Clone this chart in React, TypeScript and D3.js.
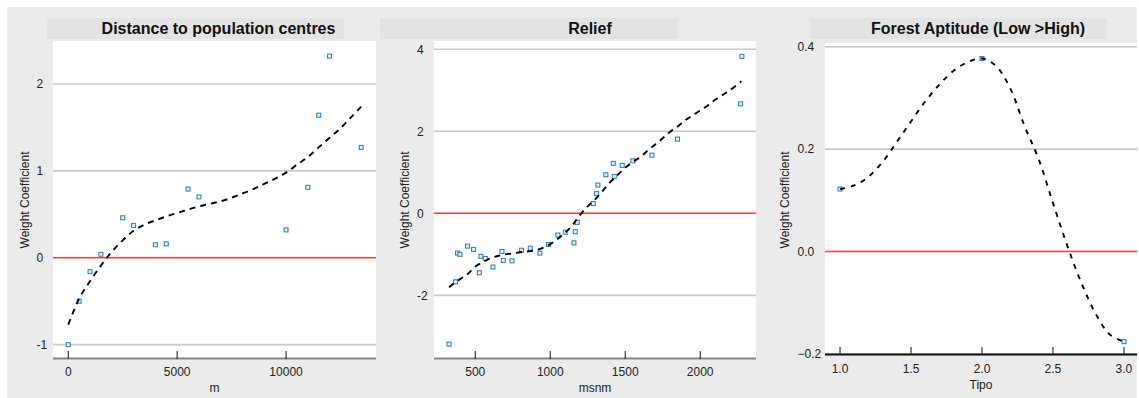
import React from "react";
import * as d3 from "d3";

// ---------- Data ----------
// Panel 1: Distance to population centres
const distPointsX = [0, 500, 1000, 1500, 2500, 3000, 4000, 4500, 5500, 6000, 10000, 11000, 11500, 12000, 13450];
const distPointsY = [-1.0, -0.5, -0.16, 0.04, 0.46, 0.37, 0.15, 0.16, 0.79, 0.7, 0.32, 0.81, 1.64, 2.32, 1.27];
const distCurveX = [0, 500, 1000, 1500, 2000, 2500, 3000, 3500, 4000, 4500, 5000, 5500, 6000, 6500, 7000, 7500, 8000, 8500, 9000, 9500, 10000, 10500, 11000, 11500, 12000, 12500, 13000, 13450];
const distCurveY = [-0.77, -0.47, -0.27, -0.09, 0.07, 0.2, 0.31, 0.38, 0.43, 0.475, 0.515, 0.555, 0.59, 0.62, 0.65, 0.69, 0.74, 0.79, 0.85, 0.91, 0.98, 1.07, 1.16, 1.27, 1.38, 1.49, 1.62, 1.74];
const distXTicks = [0, 5000, 10000];
const distYTicks = [-1, 0, 1, 2];

// Panel 2: Relief
const reliefPointsX = [325, 369, 382, 398, 449, 489, 527, 538, 567, 618, 678, 687, 745, 809, 867, 931, 989, 1051, 1100, 1158, 1167, 1180, 1287, 1309, 1318, 1371, 1420, 1427, 1480, 1551, 1678, 1849, 2269, 2278];
const reliefPointsY = [-3.19, -1.67, -0.97, -1.0, -0.8, -0.88, -1.45, -1.05, -1.1, -1.31, -0.93, -1.15, -1.16, -0.9, -0.85, -0.97, -0.76, -0.53, -0.46, -0.72, -0.45, -0.22, 0.24, 0.48, 0.69, 0.94, 1.22, 0.9, 1.17, 1.28, 1.42, 1.81, 2.67, 3.83];
const reliefCurveX = [325, 400, 450, 500, 550, 600, 650, 700, 750, 800, 850, 900, 950, 1000, 1050, 1100, 1150, 1200, 1250, 1300, 1350, 1400, 1450, 1500, 1550, 1600, 1650, 1700, 1750, 1800, 1850, 1900, 1950, 2000, 2050, 2100, 2150, 2200, 2275];
const reliefCurveY = [-1.8, -1.6, -1.48, -1.3, -1.19, -1.1, -1.04, -1.0, -0.98, -0.95, -0.93, -0.9, -0.84, -0.75, -0.62, -0.47, -0.28, -0.03, 0.17, 0.34, 0.55, 0.76, 0.94, 1.11, 1.25, 1.37, 1.53, 1.68, 1.83, 1.99, 2.12, 2.27, 2.39, 2.51, 2.63, 2.77, 2.89, 3.01, 3.22];
const reliefXTicks = [500, 1000, 1500, 2000];
const reliefYTicks = [-2, 0, 2, 4];

// Panel 3: Forest Aptitude
const forestPointsX = [1, 2, 3];
const forestPointsY = [0.122, 0.377, -0.176];
const forestCurveX = [1.0, 1.1, 1.2, 1.3, 1.4, 1.5, 1.6, 1.7, 1.8, 1.9, 2.0, 2.1, 2.2, 2.3, 2.4, 2.5, 2.6, 2.7, 2.8, 2.9, 3.0];
const forestCurveY = [0.122, 0.129, 0.146, 0.175, 0.214, 0.254, 0.293, 0.326, 0.353, 0.37, 0.377, 0.362, 0.318, 0.245, 0.18, 0.095, 0.012, -0.061, -0.121, -0.162, -0.176];
const forestXTicks = [1.0, 1.5, 2.0, 2.5, 3.0];
const forestYTicks = [-0.2, 0, 0.2, 0.4];

const FONT = "'Liberation Sans', Arial, sans-serif";

type PanelCfg = {
  title: string;
  xLabel: string;
  px: number[]; py: number[]; cx: number[]; cy: number[];
  xTicks: number[]; yTicks: number[];
  xDomain: [number, number]; yDomain: [number, number];
  left: number; right: number; top: number; bottom: number;
  titleBox: [number, number]; titleCenter: number;
  yTickX: number; yLabelX: number;
  xFmt: (v: number) => string; yFmt: (v: number) => string;
  axisColor: string; tickLabelY: number; xLabelY: number;
  dash: string;
};

const panels: PanelCfg[] = [
  {
    title: "Distance to population centres", xLabel: "m",
    px: distPointsX, py: distPointsY, cx: distCurveX, cy: distCurveY,
    xTicks: distXTicks, yTicks: distYTicks,
    xDomain: [-700, 14130], yDomain: [-1.165, 2.494],
    left: 53, right: 376, top: 41, bottom: 359,
    titleBox: [47, 344], titleCenter: 218.5,
    yTickX: 36.5, yLabelX: 25,
    xFmt: (v) => String(v), yFmt: (v) => String(v),
    axisColor: "#858585", tickLabelY: 375.5, xLabelY: 392, dash: "6,5",
  },
  {
    title: "Relief", xLabel: "msnm",
    px: reliefPointsX, py: reliefPointsY, cx: reliefCurveX, cy: reliefCurveY,
    xTicks: reliefXTicks, yTicks: reliefYTicks,
    xDomain: [225, 2372], yDomain: [-3.553, 4.203],
    left: 434, right: 756, top: 41, bottom: 359,
    titleBox: [380, 678], titleCenter: 590,
    yTickX: 417, yLabelX: 405,
    xFmt: (v) => String(v), yFmt: (v) => String(v),
    axisColor: "#858585", tickLabelY: 375.5, xLabelY: 392, dash: "6,5",
  },
  {
    title: "Forest Aptitude (Low >High)", xLabel: "Tipo",
    px: forestPointsX, py: forestPointsY, cx: forestCurveX, cy: forestCurveY,
    xTicks: forestXTicks, yTicks: forestYTicks,
    xDomain: [0.894, 3.092], yDomain: [-0.202, 0.4072],
    left: 825, right: 1137, top: 43, bottom: 355,
    titleBox: [810, 1107], titleCenter: 978,
    yTickX: 797.5, yLabelX: 785,
    xFmt: (v) => d3.format(".1f")(v), yFmt: (v) => d3.format(".1f")(v),
    axisColor: "#111", tickLabelY: 373, xLabelY: 389, dash: "5,6",
  },
];

function Panel({ c }: { c: PanelCfg }) {
  const x = d3.scaleLinear().domain(c.xDomain).range([c.left, c.right]);
  const y = d3.scaleLinear().domain(c.yDomain).range([c.bottom, c.top]);
  const curveData = c.cx.map((v, i) => [v, c.cy[i]] as [number, number]);
  const line = d3.line<[number, number]>()
    .x((d) => x(d[0]))
    .y((d) => y(d[1]))
    .curve(d3.curveCatmullRom.alpha(0.5));
  const pts = c.px.map((v, i) => [v, c.py[i]] as [number, number]);
  return (
    <g>
      <rect x={c.titleBox[0]} y={18} width={c.titleBox[1] - c.titleBox[0]} height={21} fill="#e3e3e3" />
      <text x={c.titleCenter} y={34} textAnchor="middle" fontFamily={FONT} fontWeight="bold" fontSize={16} fill="#111">{c.title}</text>
      <rect x={c.left} y={c.top} width={c.right - c.left} height={c.bottom - c.top} fill="#ffffff" />
      {c.yTicks.filter((t) => t !== 0).map((t) => (
        <line key={"g" + t} x1={c.left} x2={c.right} y1={y(t)} y2={y(t)} stroke="#c8c8c8" strokeWidth={1.6} />
      ))}
      <line x1={c.left} x2={c.right} y1={y(0)} y2={y(0)} stroke="#ff3b3b" strokeWidth={1.5} />
      {c.yTicks.map((t) => (
        <text key={"yl" + t} x={c.yTickX} y={y(t)} dy="0.35em" textAnchor="start" fontFamily={FONT} fontSize={12} fill="#222">{c.yFmt(t)}</text>
      ))}
      <line x1={c.left} x2={c.right} y1={c.bottom - 0.5} y2={c.bottom - 0.5} stroke={c.axisColor} strokeWidth={2} />
      {c.xTicks.map((t) => (
        <g key={"xt" + t}>
          <line x1={x(t)} x2={x(t)} y1={c.bottom - 8} y2={c.bottom} stroke="#111" strokeWidth={1} />
          <text x={x(t)} y={c.tickLabelY} textAnchor="middle" fontFamily={FONT} fontSize={12} fill="#222">{c.xFmt(t)}</text>
        </g>
      ))}
      <text x={(c.left + c.right) / 2} y={c.xLabelY} textAnchor="middle" fontFamily={FONT} fontSize={12} fill="#222">{c.xLabel}</text>
      <text transform={`translate(${c.yLabelX},200) rotate(-90)`} dy="0.35em" textAnchor="middle" fontFamily={FONT} fontSize={12} fill="#222">Weight Coefficient</text>
      {pts.map((p, i) => (
        <rect key={"p" + i} x={x(p[0]) - 2} y={y(p[1]) - 2} width={4} height={4} fill="#e8f2fa" stroke="#1f7bc0" strokeWidth={1} />
      ))}
      <path d={line(curveData) || ""} fill="none" stroke="#000" strokeWidth={1.9} strokeDasharray={c.dash} />
    </g>
  );
}

export default function App() {
  return (
    <svg width={1139} height={398} style={{ position: "absolute", left: 0, top: 0, background: "#fff" }}>
      <rect x={7} y={7} width={1130} height={391} fill="#ebebeb" />
      {panels.map((c, i) => <Panel key={i} c={c} />)}
    </svg>
  );
}
